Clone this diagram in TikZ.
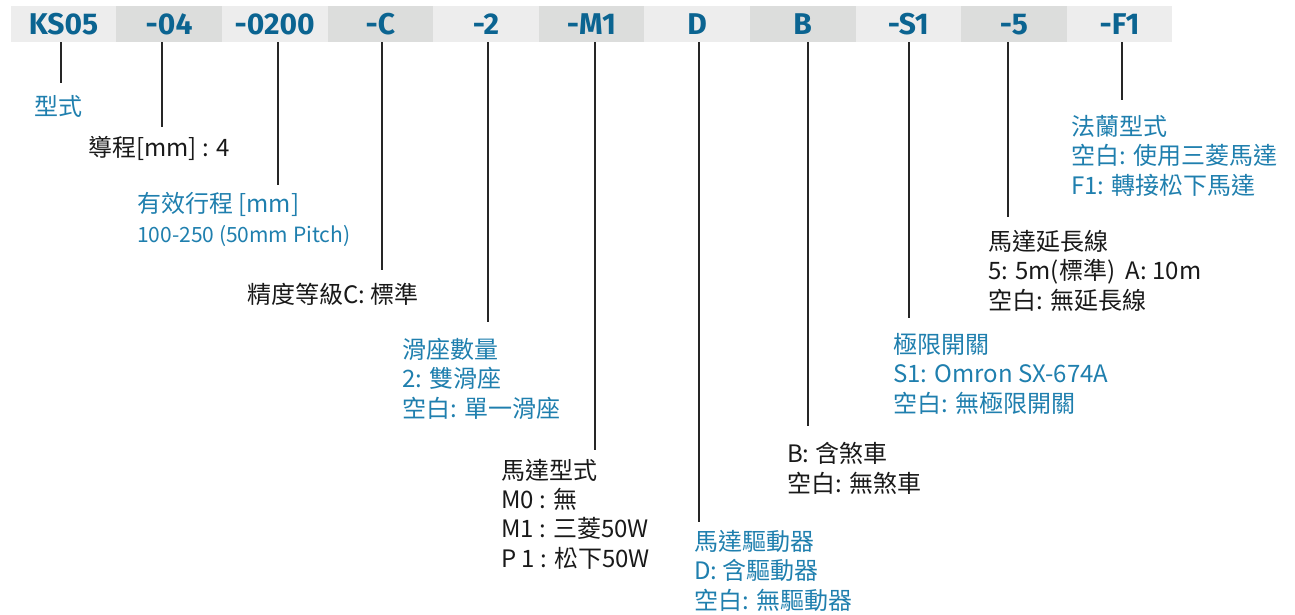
\documentclass[tikz,border=0pt]{standalone}
\usepackage{fontspec}
\setmainfont{Noto Sans CJK TC}
\newfontfamily\codefont{Fira Sans}
\usepackage{xcolor}
\usepackage{tikz}

\definecolor{codeblue}{HTML}{0B6491}
\definecolor{noteblue}{HTML}{1F7FAE}
\definecolor{barlight}{HTML}{EDEDED}
\definecolor{bardark}{HTML}{DCDDDC}

\tikzset{
  cell/.style={minimum width=105.6pt, minimum height=36.6pt, inner sep=0pt,
    text height=21pt, text depth=0pt, text=codeblue,
    font=\codefont\bfseries\fontsize{30}{30}\selectfont},
  leader/.style={line width=1.3pt, black!85},
  % base anchor of a note = baseline of its last line
  note/.style={anchor=base west, inner sep=0pt, align=left, text=black!90,
    font=\fontsize{24}{29.3}\selectfont},
}

\begin{document}
\begin{tikzpicture}[x=1pt,y=1pt]
    \useasboundingbox (0,0) rectangle (1295,-615);
    % code bar
    \foreach \code [count=\i] in {KS05,-04,-0200,-C,-2,-M1,D,B,-S1,-5,-F1} {
      \pgfmathtruncatemacro{\shade}{Mod(\i,2)}
      \ifnum\shade=1 \def\cellfill{barlight}\else \def\cellfill{bardark}\fi
      \node[cell, fill=\cellfill] (c\i) at ({10.7+105.6*(\i-0.5)},-24) {\code};
    }
    % leader ends
    \coordinate (e1) at (61,-83);
    \coordinate (e2) at (162,-127);
    \coordinate (e3) at (278,-185);
    \coordinate (e4) at (382,-270);
    \coordinate (e5) at (488,-322);
    \coordinate (e6) at (595,-450);
    \coordinate (e7) at (699,-522);
    \coordinate (e8) at (808,-426);
    \coordinate (e9) at (909,-318);
    \coordinate (e10) at (1008,-217);
    \coordinate (e11) at (1122,-100);
    \foreach \i in {1,...,11}
      \draw[leader] (c\i.south -| e\i) -- (e\i);
    % notes
    \node[note, text=noteblue] (n1) at (34,-116) {型式};
    \node[note] (n2) at (88,-156) {導程[mm] : 4};
    \node[note, text=noteblue] (n3) at (137,-242)
      {有效行程 [mm]\\{\fontsize{21}{29.3}\selectfont 100-250 (50mm Pitch)}};
    \node[note] (n4) at (247,-303) {精度等級C: 標準};
    \node[note, text=noteblue] (n5) at (402,-417) {滑座數量\\2: 雙滑座\\空白: 單一滑座};
    \node[note] (n6) at (501,-567) {馬達型式\\M0 : 無\\M1 : 三菱50W\\P 1 : 松下50W};
    \node[note, text=noteblue] (n7) at (694,-609) {馬達驅動器\\D: 含驅動器\\空白: 無驅動器};
    \node[note] (n8) at (787,-492) {B: 含煞車\\空白: 無煞車};
    \node[note, text=noteblue] (n9) at (893,-412) {極限開關\\S1: Omron SX-674A\\空白: 無極限開關};
    \node[note] (n10) at (988,-309) {馬達延長線\\5: 5m(標準)\ \ A: 10m\\空白: 無延長線};
    \node[note, text=noteblue] (n11) at (1071,-194) {法蘭型式\\空白: 使用三菱馬達\\F1: 轉接松下馬達};
\end{tikzpicture}
\end{document}
